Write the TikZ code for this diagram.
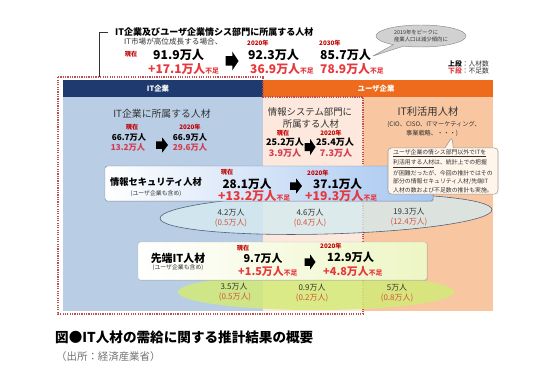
\documentclass[tikz,border=0pt]{standalone}
\usepackage{fontspec}
\setmainfont{Noto Sans CJK JP}
\usetikzlibrary{shapes.callouts,shadows}
\definecolor{navyhead}{HTML}{1F3A6E}
\definecolor{itblue}{HTML}{B9CDE5}
\definecolor{userorange}{HTML}{EE6A1C}
\definecolor{infosys}{HTML}{FCE8DC}
\definecolor{utilpeach}{HTML}{F8C7A2}
\definecolor{dotred}{HTML}{C0504D}
\definecolor{labred}{HTML}{C00000}
\definecolor{shortred}{HTML}{E8383D}
\definecolor{pinkred}{HTML}{D23C50}
\definecolor{subred}{HTML}{D2553C}
\definecolor{ellblue}{HTML}{D6EBEF}
\definecolor{ellline}{HTML}{4F5F78}
\definecolor{ellgreen}{HTML}{D3EB78}
\definecolor{secblue}{HTML}{A6C6F0}
\definecolor{advgreen}{HTML}{EDF6C4}
\definecolor{inkgray}{HTML}{333333}
\newcommand\fsz[1]{\fontsize{#1}{#1}\selectfont}
\newcommand\fusoku{{\fsz{5.8}不足}}
\tikzset{
    txt/.style={inner sep=0pt, text=inkgray},
    hd/.style={txt, text=white, font=\bfseries\fsz{6.3}},
    lab/.style={txt, text=labred, font=\bfseries\fsz{5.3}},
    num/.style={txt, text=black, font=\bfseries\fsz{#1}},
    short/.style={txt, text=shortred, font=\bfseries\fsz{#1}},
    colnum/.style={txt, text=black, font=\bfseries\fsz{#1}},
    colred/.style={txt, text=pinkred, font=\bfseries\fsz{#1}},
    ellnum/.style={txt, text=inkgray, font=\fsz{6.8}},
    ellsub/.style={txt, text=subred, font=\fsz{6.8}},
    dotline/.style={dotred, densely dotted, line width=1pt},
    secbar/.style={draw=secblue!70!black, line width=.4pt, left color=white, right color=secblue, rounded corners=2pt,
        drop shadow={opacity=.3, shadow xshift=.7pt, shadow yshift=-.7pt}},
    advbar/.style={draw=black!25, line width=.4pt, left color=white, right color=advgreen, rounded corners=2pt,
        drop shadow={opacity=.3, shadow xshift=.7pt, shadow yshift=-.7pt}},
    fatarrow/.pic={\fill[black] (-.5,-.25) -- (.02,-.25) -- (.02,-.5) -- (.5,0) -- (.02,.5) -- (.02,.25) -- (-.5,.25) -- cycle;}
}
\begin{document}
\begin{tikzpicture}[x=0.03cm,y=-0.03cm]
    \useasboundingbox (0,0) rectangle (535,367);
    \fill[white] (0,0) rectangle (535,367);

    \draw[line width=.7pt, black!80] (108,32) -- (99,32) -- (99,77);
    \node[txt, anchor=west, text=black, font=\bfseries\fsz{7.7}] (title) at (115,32) {IT企業及びユーザ企業情シス部門に所属する人材};
    \node[txt, anchor=west, font=\fsz{6.5}] (cond) at (124,42) {IT市場が高位成長する場合、};
    \node[lab] (nowtop) at (131,54) {現在};
    \node[num=10.4, anchor=west] (numnow) at (153,55) {91.9万人};
    \node[short=10.2, anchor=west] (shortnow) at (148,69) {+17.1万人\fusoku};
    \pic[xscale=13,yscale=19] at (232,61) {fatarrow};
    \node[lab, anchor=west] (year20) at (247,43) {2020年};
    \node[num=10.4, anchor=west] (num20) at (248,55) {92.3万人};
    \node[short=10.2, anchor=west] (short20) at (250,69) {36.9万人\fusoku};
    \node[lab, anchor=west] (year30) at (319,43) {2030年};
    \node[num=10.4, anchor=west] (num30) at (320,55) {85.7万人};
    \node[short=10.2, anchor=west] (short30) at (320,69) {78.9万人\fusoku};

    \node[ellipse callout, callout absolute pointer={(373,56)}, fill=black!18, draw=black!45, line width=.4pt,
        minimum width=2.7cm, minimum height=.66cm, inner sep=0pt, align=left, text=inkgray, font=\fsz{4.6}]
        (peak) at (421,36) {2019年をピークに\\[.8pt]産業人口は減少傾向に};
    \node[txt, anchor=west, font=\fsz{5.8}] (legup) at (448,64) {\textbf{\color{black}上段}：人材数};
    \node[txt, anchor=west, font=\fsz{5.8}] (legdown) at (448,71) {\textbf{\color{shortred}下段}：不足数};

    \fill[itblue] (63,97) rectangle (263,311);
    \fill[infosys] (263,97) rectangle (363,311);
    \fill[utilpeach] (363,97) rectangle (493,311);
    \fill[navyhead] (63,80) rectangle (263,97);
    \fill[userorange] (263,80) rectangle (493,97);
    \node[hd] (ithead) at (158,89) {IT企業};
    \node[hd] (userhead) at (376,89) {ユーザ企業};
    \draw[dotline] (58,77) -- (263,77) -- (263,97) -- (363,97) -- (363,314) -- (58,314) -- cycle;

    \node[txt, font=\fsz{8.4}] (itcol) at (162,114) {IT企業に所属する人材};
    \node[lab] (itnow) at (132,127) {現在};
    \node[colnum=7] (itnum) at (129,137) {66.7万人};
    \node[colred=7] (itshort) at (128,147) {13.2万人};
    \pic[xscale=12,yscale=15] at (162,145) {fatarrow};
    \node[lab] (ityear) at (190,127) {2020年};
    \node[colnum=7] (itnum20) at (190,137) {66.9万人};
    \node[colred=7] (itshort20) at (190,147) {29.6万人};

    \node[txt, font=\fsz{8}] (syscol) at (310,112) {情報システム部門に};
    \node[txt, font=\fsz{8}] (syscolb) at (311,124) {所属する人材};
    \node[lab] (sysnow) at (283,133) {現在};
    \node[colnum=7.7] (sysnum) at (285,142) {25.2万人};
    \node[colred=7.7] (sysshort) at (285,153) {3.9万人};
    \pic[xscale=11,yscale=16] at (310,147) {fatarrow};
    \node[lab] (sysyear) at (331,133) {2020年};
    \node[colnum=7.7] (sysnum20) at (335,142) {25.4万人};
    \node[colred=7.7] (sysshort20) at (336,153) {7.3万人};

    \node[txt, font=\fsz{8.8}] (utilcol) at (428,112) {IT利活用人材};
    \node[txt, font=\fsz{5.3}] (utilsub) at (434,125) {(CIO、CISO、ITマーケティング、};
    \node[txt, font=\fsz{5.3}] (utilsubb) at (432,133) {事業戦略、・・・)};

    \filldraw[fill=ellblue, fill opacity=.8, draw=ellline, line width=.5pt, rotate around={1.5:(326,214)}]
        (326,214) ellipse [x radius=166, y radius=20];
    \draw[secbar] (105,166) rectangle (433,201);
    \node[txt, text=black, font=\bfseries\fsz{7.9}] (sec) at (156,182) {情報セキュリティ人材};
    \node[txt, font=\fsz{5}] (secnote) at (156,194) {(ユーザ企業も含め)};
    \node[lab] (secnow) at (227,172) {現在};
    \node[num=10] (secnum) at (247,184) {28.1万人};
    \node[short=10.4, anchor=west] (secshort) at (218,196) {+13.2万人\fusoku};
    \pic[xscale=12,yscale=15] at (296,186) {fatarrow};
    \node[lab, anchor=west] (secyear) at (307,173) {2020年};
    \node[num=10, anchor=west] (secnum20) at (313,184) {37.1万人};
    \node[short=10.4, anchor=west] (secshort20) at (305,196) {+19.3万人\fusoku};
    \node[ellnum] (secita) at (231,213) {4.2万人};
    \node[ellsub] (secitb) at (231,223) {(0.5万人)};
    \node[ellnum] (secsysa) at (310,213) {4.6万人};
    \node[ellsub] (secsysb) at (310,223) {(0.4万人)};
    \node[ellnum] (secutila) at (409,212) {19.3万人};
    \node[ellsub] (secutilb) at (409,222) {(12.4万人)};

    \fill[ellgreen, opacity=.85] (316,292) ellipse [x radius=138, y radius=18];
    \draw[advbar] (138,242) rectangle (427,280);
    \node[txt, text=black, font=\bfseries\fsz{9.3}] (adv) at (178,258) {先端IT人材};
    \node[txt, font=\fsz{5}] (advnote) at (178,268) {(ユーザ企業も含め)};
    \node[lab] (advnow) at (243,248) {現在};
    \node[num=9.3] (advnum) at (263,258) {9.7万人};
    \node[short=9.3, anchor=west] (advshort) at (238,271) {+1.5万人\fusoku};
    \pic[xscale=11,yscale=15] at (310,262) {fatarrow};
    \node[lab, anchor=west] (advyear) at (320,246) {2020年};
    \node[num=9.6, anchor=west] (advnum20) at (327,257) {12.9万人};
    \node[short=9.3, anchor=west] (advshort20) at (323,271) {+4.8万人\fusoku};
    \node[ellnum] (advita) at (234,287) {3.5万人};
    \node[ellsub] (advitb) at (235,297) {(0.5万人)};
    \node[ellnum] (advsysa) at (312,288) {0.9万人};
    \node[ellsub] (advsysb) at (312,298) {(0.2万人)};
    \node[ellnum] (advutila) at (397,288) {5万人};
    \node[ellsub] (advutilb) at (397,298) {(0.8万人)};

    \node[rectangle callout, callout absolute pointer={(452,137)}, rounded corners=3pt, fill=white!92!orange,
        draw=black!40, line width=.5pt, minimum width=3.3cm, minimum height=1.38cm, inner sep=1pt,
        align=left, text=inkgray, font=\fsz{5}]
        (note) at (443,171) {\underline{ユーザ企業の情シス部門以外でITを}\\[1.6pt]
            \underline{利活用する人材}は、統計上での把握\\[1.6pt]
            が困難だったが、今回の推計ではその\\[1.6pt]
            部分の情報セキュリティ人材/先端IT\\[1.6pt]
            人材の数および不足数の推計も実施。};

    \node[txt, anchor=west, text=black, font=\bfseries\fsz{11.6}] (caption) at (55,337) {図●IT人材の需給に関する推計結果の概要};
    \node[txt, anchor=west, text=black!55, font=\fsz{8.9}] (source) at (56,357) {（出所：経済産業省）};
\end{tikzpicture}
\end{document}
